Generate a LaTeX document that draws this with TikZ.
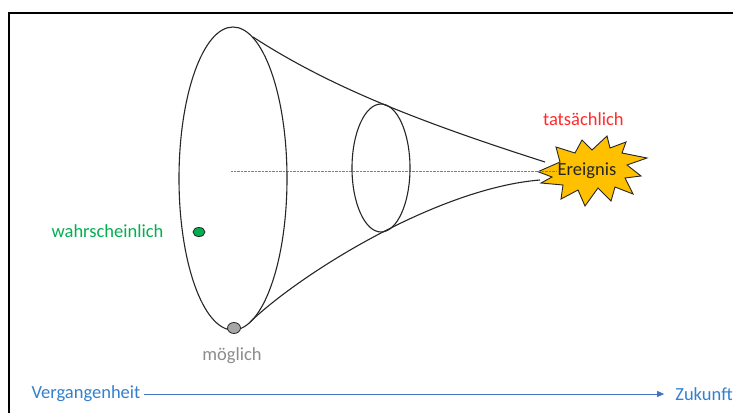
\documentclass[tikz,border=0pt]{standalone}
\usepackage{fontspec}
\setmainfont{Carlito}
\usetikzlibrary{arrows.meta,shapes.geometric}
\definecolor{txtblue}{HTML}{3480CC}
\definecolor{arrblue}{HTML}{4472C4}
\definecolor{txtgreen}{HTML}{00B050}
\definecolor{txtred}{HTML}{FF2A2A}
\definecolor{txtgray}{HTML}{8C8C8C}
\definecolor{starfill}{HTML}{FFC000}
\definecolor{ink}{HTML}{262626}
\begin{document}
\begin{tikzpicture}[x=1pt,y=-1pt,
  lbl/.style={inner sep=0pt,font=\fontsize{18.5}{22}\selectfont},
  cone/.style={draw=ink,line width=1.1pt},
  dotline/.style={draw=gray,line width=0.6pt,dash pattern=on 0.8pt off 0.6pt},
  dot/.style={draw=ink,line width=0.8pt,ellipse,inner sep=0pt}]
\useasboundingbox (0,0) rectangle (733,413);
\fill[white] (0,0) rectangle (733,413);
% frame
\draw[black,line width=2pt] (9,413) -- (9,12.5) -- (733,12.5);
% starburst
\draw[ink,fill=starfill,line width=0.9pt,line join=miter]
 (538,171.7) -- (560,162) -- (556,147) -- (575,153) -- (582,140) -- (592,150)
 -- (607,136) -- (610,148) -- (626,142) -- (622,153) -- (647,158) -- (627,165)
 -- (641,176) -- (625,178) -- (633,194) -- (615,187) -- (611,201) -- (598,188)
 -- (585,206) -- (578,190) -- (561,199) -- (563,185) -- (541,183) -- (552,177) -- cycle;
% axis line
\coordinate (axA) at (231,171);
\coordinate (axB) at (556,171);
\draw[dotline] (axA) -- (axB);
% ellipses
\node[cone,ellipse,minimum width=108pt,minimum height=303pt,inner sep=0pt] (big) at (233,178.5) {};
\node[cone,ellipse,minimum width=58pt,minimum height=128pt,inner sep=0pt] (small) at (381,168) {};
% cone curves
\coordinate (uA) at (253,37);
\coordinate (uB) at (545,162);
\coordinate (lA) at (250,322);
\coordinate (lB) at (540,180);
\draw[cone] (uA) .. controls (330,87) and (420,122) .. (uB);
\draw[cone] (lA) .. controls (305,270) and (440,188) .. (lB);
% dots
\node[dot,fill=txtgreen,minimum width=12pt,minimum height=9pt] (gdot) at (199,232) {};
\node[dot,fill=gray!70,minimum width=13pt,minimum height=11pt] (pdot) at (234,328) {};
% labels
\node[lbl,text=ink] (ereignis) at (587,171) {Ereignis};
\node[lbl,text=txtred] (tats) at (583.3,119) {tatsächlich};
\node[lbl,text=txtgreen] (wahr) at (107.5,231) {wahrscheinlich};
\node[lbl,text=txtgray] (moeg) at (232,356) {möglich};
\node[lbl,text=txtblue] (verg) at (86,394) {Vergangenheit};
\node[lbl,text=txtblue] (zuk) at (704,394) {Zukunft};
\draw[arrblue,line width=0.8pt,-{Triangle[length=7pt,width=6pt]}] (verg.east) ++(3pt,0) -- ([xshift=-11pt]zuk.west);
\end{tikzpicture}
\end{document}
